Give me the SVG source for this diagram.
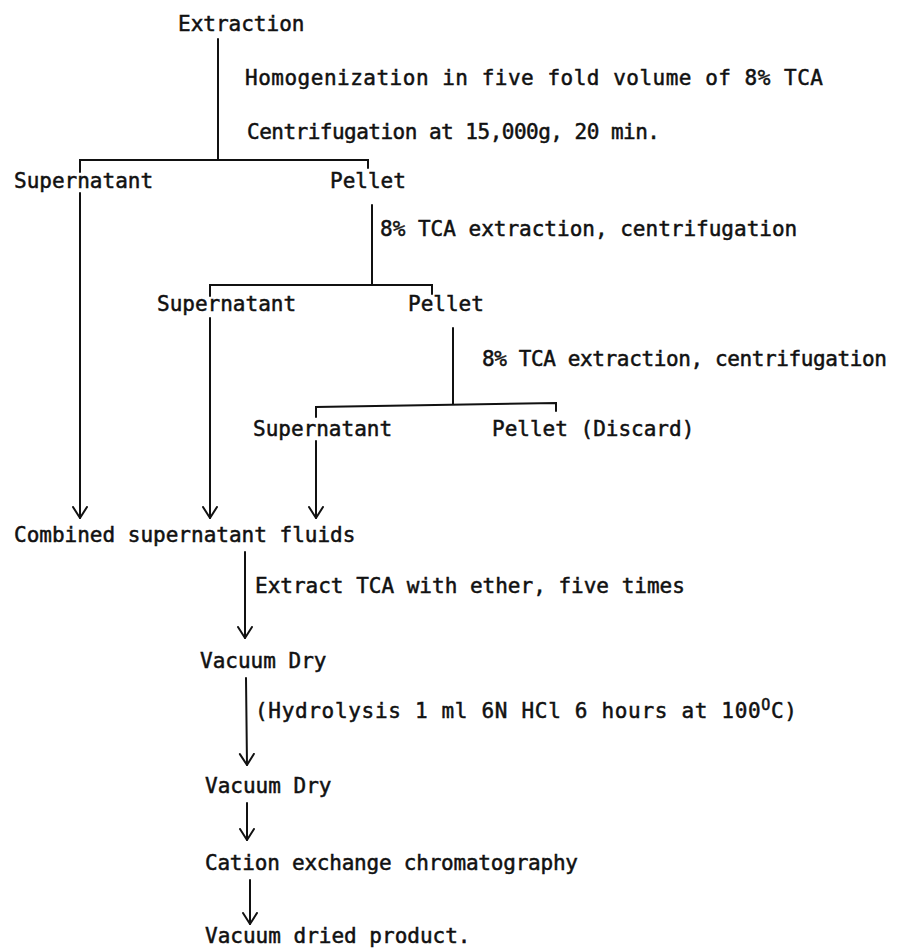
<svg xmlns="http://www.w3.org/2000/svg" width="901" height="951" viewBox="0 0 901 951">
<defs>
<style>
text{font-family:"DejaVu Sans Mono","Liberation Mono",monospace;font-size:21px;fill:#111;stroke:#111;stroke-width:0.5;}
.ln{stroke:#111;stroke-width:2;fill:none;stroke-linecap:round;}
</style>
<marker id="ah" markerWidth="24" markerHeight="24" viewBox="-12 -12 24 24" refX="0" refY="0" orient="auto" markerUnits="userSpaceOnUse">
<polyline points="-11,-7 0,0 -11,7" fill="none" stroke="#111" stroke-width="2" stroke-linecap="round" stroke-linejoin="round"/>
</marker>
</defs>
<rect width="901" height="951" fill="#fff"/>
<g id="connectors">
<line class="ln" x1="218" y1="39" x2="218" y2="160"/>
<polyline class="ln" points="80,172 80,160 368,160 368,168"/>
<line class="ln" x1="372" y1="205" x2="372" y2="285"/>
<polyline class="ln" points="210,296 210,285 432,285 432,294"/>
<line class="ln" x1="453" y1="328" x2="453" y2="404"/>
<polyline class="ln" points="316,417 316,407 556,403 556,411"/>
<line class="ln" x1="80" y1="193" x2="80" y2="518" marker-end="url(#ah)"/>
<line class="ln" x1="210" y1="318" x2="210" y2="518" marker-end="url(#ah)"/>
<line class="ln" x1="316" y1="441" x2="316" y2="518" marker-end="url(#ah)"/>
<line class="ln" x1="245" y1="552" x2="245" y2="638" marker-end="url(#ah)"/>
<line class="ln" x1="246" y1="678" x2="247" y2="765" marker-end="url(#ah)"/>
<line class="ln" x1="247" y1="803" x2="247" y2="840" marker-end="url(#ah)"/>
<line class="ln" x1="250" y1="880" x2="250" y2="924" marker-end="url(#ah)"/>
</g>
<g id="n-extraction"><text x="178" y="31">Extraction</text></g>
<g id="l-homog"><text x="245" y="85" textLength="578">Homogenization in five fold volume of 8% TCA</text></g>
<g id="l-centrif"><text x="247" y="139" textLength="413">Centrifugation at 15,000g, 20 min.</text></g>
<g id="n-sup1"><text x="14" y="188">Supernatant</text></g>
<g id="n-pel1"><text x="330" y="188">Pellet</text></g>
<g id="l-tca1"><text x="380" y="236">8% TCA extraction, centrifugation</text></g>
<g id="n-sup2"><text x="157" y="311">Supernatant</text></g>
<g id="n-pel2"><text x="408" y="311">Pellet</text></g>
<g id="l-tca2"><text x="482" y="366" textLength="405">8% TCA extraction, centrifugation</text></g>
<g id="n-sup3"><text x="253" y="436">Supernatant</text></g>
<g id="n-pel3"><text x="492" y="436">Pellet (Discard)</text></g>
<g id="n-combined"><text x="14" y="542">Combined supernatant fluids</text></g>
<g id="l-ether"><text x="255" y="593">Extract TCA with ether, five times</text></g>
<g id="n-vac1"><text x="200" y="668">Vacuum Dry</text></g>
<g id="l-hydro"><text x="255" y="718" textLength="542">(Hydrolysis 1 ml 6N HCl 6 hours at 100<tspan font-size="15" dy="-8">O</tspan><tspan dy="8">C)</tspan></text></g>
<g id="n-vac2"><text x="205" y="793">Vacuum Dry</text></g>
<g id="n-cation"><text x="205" y="870" textLength="373">Cation exchange chromatography</text></g>
<g id="n-product"><text x="205" y="943">Vacuum dried product.</text></g>
</svg>
